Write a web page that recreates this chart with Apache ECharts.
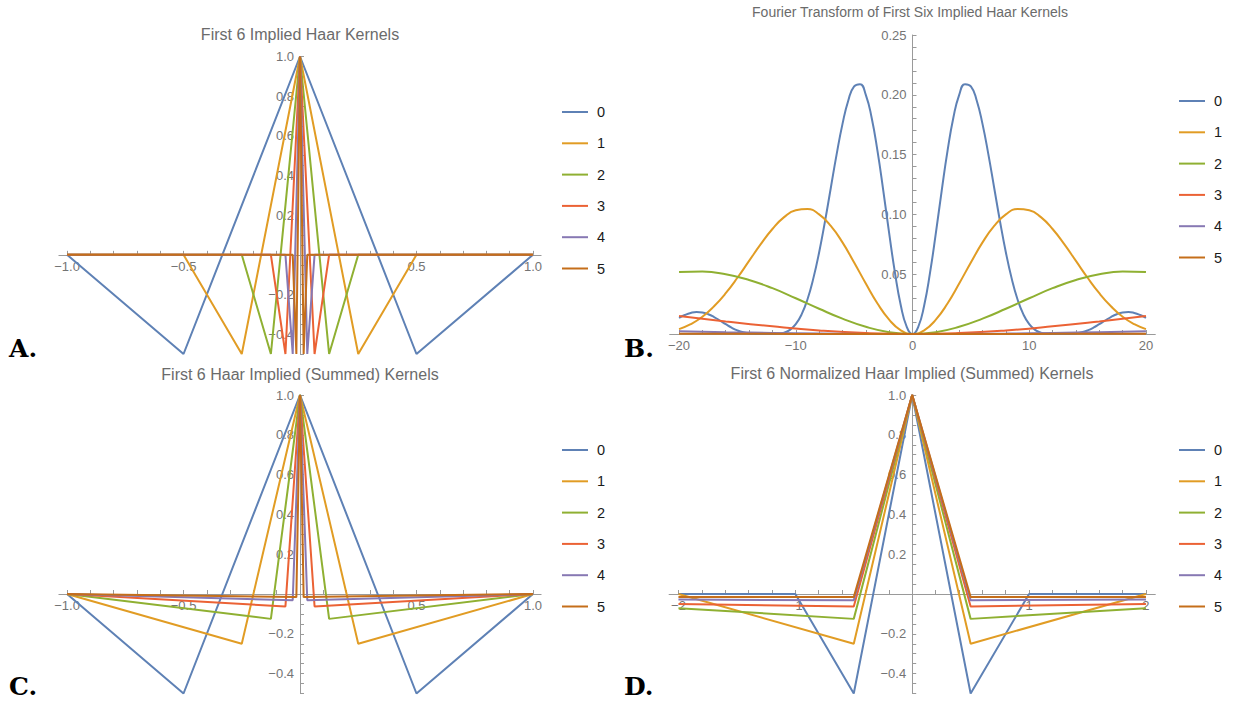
<!DOCTYPE html>
<html>
<head>
<meta charset="utf-8">
<script src="https://cdn.jsdelivr.net/npm/echarts@6/dist/echarts.min.js"></script>
<style>
html,body{margin:0;padding:0;background:#ffffff;}
#chart{width:1233px;height:705px;}
</style>
</head>
<body>
<div id="chart"></div>
<script>
// ---------------- data ----------------
const seriesNames = ['0', '1', '2', '3', '4', '5'];
const palette = ['#5E81B5', '#E19C24', '#8FB032', '#EB6235', '#8778B3', '#C56E1A'];

const titleA = 'First 6 Implied Haar Kernels';
const titleB = 'Fourier Transform of First Six Implied Haar Kernels';
const titleC = 'First 6 Haar Implied (Summed) Kernels';
const titleD = 'First 6 Normalized Haar Implied (Summed) Kernels';
const panelLetters = ['A.', 'B.', 'C.', 'D.'];

// Panel A: implied Haar kernels
const implied0X = [-1, -0.5, 0, 0.5, 1];
const implied0Y = [0, -0.5, 1, -0.5, 0];
const implied1X = [-1, -0.5, -0.25, 0, 0.25, 0.5, 1];
const implied1Y = [0, 0, -0.5, 1, -0.5, 0, 0];
const implied2X = [-1, -0.25, -0.125, 0, 0.125, 0.25, 1];
const implied2Y = [0, 0, -0.5, 1, -0.5, 0, 0];
const implied3X = [-1, -0.125, -0.0625, 0, 0.0625, 0.125, 1];
const implied3Y = [0, 0, -0.5, 1, -0.5, 0, 0];
const implied4X = [-1, -0.0625, -0.03125, 0, 0.03125, 0.0625, 1];
const implied4Y = [0, 0, -0.5, 1, -0.5, 0, 0];
const implied5X = [-1, -0.03125, -0.015625, 0, 0.015625, 0.03125, 1];
const implied5Y = [0, 0, -0.5, 1, -0.5, 0, 0];

// Panel B: Fourier transforms
const fourier0X = [-20,-19.5,-19,-18.5,-18,-17.5,-17,-16.5,-16,-15.5,-15,-14.5,-14,-13.5,-13,-12.5,-12,-11.5,-11,-10.5,-10,-9.5,-9,-8.5,-8,-7.5,-7,-6.5,-6,-5.5,-5,-4.5,-4,-3.5,-3,-2.5,-2,-1.5,-1,-0.5,0,0.5,1,1.5,2,2.5,3,3.5,4,4.5,5,5.5,6,6.5,7,7.5,8,8.5,9,9.5,10,10.5,11,11.5,12,12.5,13,13.5,14,14.5,15,15.5,16,16.5,17,17.5,18,18.5,19,19.5,20];
const fourier0Y = [0.0135,0.0159,0.0176,0.0184,0.0180,0.0165,0.0142,0.0113,0.0082,0.0053,0.0030,0.0014,0.0005,0.0001,0.0000,0.0000,0.0000,0.0002,0.0011,0.0034,0.0082,0.0164,0.0289,0.0463,0.0682,0.0940,0.1221,0.1502,0.1755,0.1953,0.2071,0.2089,0.2000,0.1808,0.1531,0.1197,0.0843,0.0511,0.0239,0.0062,0,0.0062,0.0239,0.0511,0.0843,0.1197,0.1531,0.1808,0.2000,0.2089,0.2071,0.1953,0.1755,0.1502,0.1221,0.0940,0.0682,0.0463,0.0289,0.0164,0.0082,0.0034,0.0011,0.0002,0.0000,0.0000,0.0000,0.0001,0.0005,0.0014,0.0030,0.0053,0.0082,0.0113,0.0142,0.0165,0.0180,0.0184,0.0176,0.0159,0.0135];
const fourier1X = [-20,-19,-18,-17,-16,-15,-14,-13,-12,-11,-10,-9,-8,-7,-6,-5,-4,-3,-2,-1,0,1,2,3,4,5,6,7,8,9,10,11,12,13,14,15,16,17,18,19,20];
const fourier1Y = [0.0041,0.0082,0.0144,0.0232,0.0341,0.0470,0.0611,0.0751,0.0878,0.0977,0.1035,0.1045,0.1000,0.0904,0.0766,0.0598,0.0422,0.0255,0.0120,0.0031,0,0.0031,0.0120,0.0255,0.0422,0.0598,0.0766,0.0904,0.1000,0.1045,0.1035,0.0977,0.0878,0.0751,0.0611,0.0470,0.0341,0.0232,0.0144,0.0082,0.0041];
const fourier2X = [-20,-18,-16,-14,-12,-10,-8,-6,-4,-2,0,2,4,6,8,10,12,14,16,18,20];
const fourier2Y = [0.0518,0.0522,0.0500,0.0452,0.0383,0.0299,0.0211,0.0128,0.0060,0.0015,0,0.0015,0.0060,0.0128,0.0211,0.0299,0.0383,0.0452,0.0500,0.0522,0.0518];
const fourier3X = [-20,-16,-12,-8,-4,0,4,8,12,16,20];
const fourier3Y = [0.0150,0.0105,0.0064,0.0030,0.0008,0,0.0008,0.0030,0.0064,0.0105,0.0150];
const fourier4X = [-20,-16,-12,-8,-4,0,4,8,12,16,20];
const fourier4Y = [0.0023,0.0015,0.0009,0.0004,0.0001,0,0.0001,0.0004,0.0009,0.0015,0.0023];
const fourier5X = [-20,-15,-10,-5,0,5,10,15,20];
const fourier5Y = [0.0003,0.00017,0.00008,0.00002,0,0.00002,0.00008,0.00017,0.0003];

// Panel C: summed kernels
const summed0X = [-1, -0.5, 0, 0.5, 1];
const summed0Y = [0, -0.5, 1, -0.5, 0];
const summed1X = [-1, -0.25, 0, 0.25, 1];
const summed1Y = [0, -0.25, 1, -0.25, 0];
const summed2X = [-1, -0.125, 0, 0.125, 1];
const summed2Y = [0, -0.125, 1, -0.125, 0];
const summed3X = [-1, -0.0625, 0, 0.0625, 1];
const summed3Y = [0, -0.0625, 1, -0.0625, 0];
const summed4X = [-1, -0.03125, 0, 0.03125, 1];
const summed4Y = [0, -0.03125, 1, -0.03125, 0];
const summed5X = [-1, -0.015625, 0, 0.015625, 1];
const summed5Y = [0, -0.015625, 1, -0.015625, 0];

// Panel D: normalized summed kernels
const norm0X = [-2, -1, -0.5, 0, 0.5, 1, 2];
const norm0Y = [0, 0, -0.5, 1, -0.5, 0, 0];
const norm1X = [-2, -0.5, 0, 0.5, 2];
const norm1Y = [0, -0.25, 1, -0.25, 0];
const norm2X = [-2, -0.5, 0, 0.5, 2];
const norm2Y = [-0.071, -0.125, 1, -0.125, -0.071];
const norm3X = [-2, -0.5, 0, 0.5, 2];
const norm3Y = [-0.05, -0.0625, 1, -0.0625, -0.05];
const norm4X = [-2, -0.5, 0, 0.5, 2];
const norm4Y = [-0.028, -0.03125, 1, -0.03125, -0.028];
const norm5X = [-2, -0.5, 0, 0.5, 2];
const norm5Y = [-0.015, -0.015625, 1, -0.015625, -0.015];

// tick labels
const kernelXLabels = [-1, -0.5, 0.5, 1];
const kernelYLabels = [-0.4, -0.2, 0.2, 0.4, 0.6, 0.8, 1];
const fourierXLabels = [-20, -10, 0, 10, 20];
const fourierYLabels = [0.05, 0.10, 0.15, 0.20, 0.25];
const normXLabels = [-2, -1, 1, 2];

// ---------------- helpers ----------------
function zip(xs, ys) { return xs.map((x, i) => [x, ys[i]]); }
function tickRange(a, b, step) {
  const out = [];
  const n = Math.round((b - a) / step);
  for (let i = 0; i <= n; i++) out.push(+(a + i * step).toFixed(6));
  return out;
}
const minus = s => s.replace(/-/g, '\u2212');
const fmt1 = v => minus(Number(v).toFixed(1));
const fmt2 = v => minus(Number(v).toFixed(2));
const fmt0 = v => minus(String(Math.round(Number(v))));

const FONT = '"Liberation Sans", Arial, sans-serif';
const AXIS_COLOR = '#9a9a9a';
const LABEL_COLOR = '#747474';

// grid boxes and axis ranges
const grids = [
  { left: 58.9, top: 56.5, width: 482.2, height: 297.5, x: [-1.035, 1.035], y: [-0.5, 1] },
  { left: 669.7, top: 35, width: 485.6, height: 299, x: [-20.8, 20.8], y: [0, 0.25] },
  { left: 58.9, top: 395, width: 482.2, height: 298.5, x: [-1.035, 1.035], y: [-0.5, 1] },
  { left: 669.1, top: 395, width: 486.2, height: 298.5, x: [-2.08, 2.08], y: [-0.5, 1] }
];

// axes cross at the origin: shift each axis from the grid edge to the other axis's zero
function zeroOffset(range, size) { return -size * (0 - range[0]) / (range[1] - range[0]); }

function makeX(gi, labels, ticks, fmt) {
  const g = grids[gi];
  return {
    type: 'value', gridIndex: gi, min: g.x[0], max: g.x[1],
    position: 'bottom', offset: zeroOffset(g.y, g.height),
    splitLine: { show: false },
    axisLine: { show: true, onZero: false, lineStyle: { color: AXIS_COLOR, width: 1 } },
    axisTick: { show: true, inside: true, length: 4, customValues: ticks, lineStyle: { color: AXIS_COLOR, width: 1 } },
    minorTick: { show: false },
    axisLabel: { customValues: labels, formatter: fmt, color: LABEL_COLOR, fontSize: 13, fontFamily: FONT, margin: 5 }
  };
}
function makeY(gi, labels, ticks, fmt) {
  const g = grids[gi];
  return {
    type: 'value', gridIndex: gi, min: g.y[0], max: g.y[1],
    position: 'left', offset: zeroOffset(g.x, g.width),
    splitLine: { show: false },
    axisLine: { show: true, onZero: false, lineStyle: { color: AXIS_COLOR, width: 1 } },
    axisTick: { show: true, inside: true, length: 4, customValues: ticks, lineStyle: { color: AXIS_COLOR, width: 1 } },
    minorTick: { show: false },
    axisLabel: { customValues: labels, formatter: fmt, color: LABEL_COLOR, fontSize: 13, fontFamily: FONT, margin: 6 }
  };
}
function makeSeries(gi, k, xs, ys, smooth) {
  return {
    type: 'line', name: seriesNames[k], xAxisIndex: gi, yAxisIndex: gi,
    data: zip(xs, ys), showSymbol: false, symbol: 'none', smooth: smooth || false,
    clip: false, color: palette[k],
    lineStyle: { color: palette[k], width: 2 },
    emphasis: { disabled: true }
  };
}
function makeLegend(left, top) {
  return {
    orient: 'vertical', left: left, top: top, padding: 0, data: seriesNames,
    icon: 'rect', itemWidth: 26, itemHeight: 2, itemGap: 15.3,
    textStyle: { color: '#1a1a1a', fontSize: 14.5, fontFamily: FONT, lineHeight: 16, padding: [0, 0, 0, 4] },
    selectedMode: false
  };
}

const implied = [[implied0X, implied0Y], [implied1X, implied1Y], [implied2X, implied2Y], [implied3X, implied3Y], [implied4X, implied4Y], [implied5X, implied5Y]];
const fourier = [[fourier0X, fourier0Y], [fourier1X, fourier1Y], [fourier2X, fourier2Y], [fourier3X, fourier3Y], [fourier4X, fourier4Y], [fourier5X, fourier5Y]];
const summed = [[summed0X, summed0Y], [summed1X, summed1Y], [summed2X, summed2Y], [summed3X, summed3Y], [summed4X, summed4Y], [summed5X, summed5Y]];
const normed = [[norm0X, norm0Y], [norm1X, norm1Y], [norm2X, norm2Y], [norm3X, norm3Y], [norm4X, norm4Y], [norm5X, norm5Y]];

const series = [];
implied.forEach((p, k) => series.push(makeSeries(0, k, p[0], p[1])));
fourier.forEach((p, k) => series.push(makeSeries(1, k, p[0], p[1], true)));
summed.forEach((p, k) => series.push(makeSeries(2, k, p[0], p[1])));
normed.forEach((p, k) => series.push(makeSeries(3, k, p[0], p[1])));

const kernelXTicks = tickRange(-1, 1, 0.1);
const kernelYTicks = tickRange(-0.5, 1, 0.05);
const fourierXTicks = tickRange(-20, 20, 2);
const fourierYTicks = tickRange(0, 0.25, 0.01);
const normXTicks = tickRange(-2, 2, 0.2);

function textEl(x, y, text, font, fill, align) {
  return { type: 'text', x: x, y: y, silent: true,
    style: { text: text, font: font, fill: fill, align: align || 'center', verticalAlign: 'middle' } };
}
const TITLE_FONT = '16px "Liberation Sans", Arial, sans-serif';
const LETTER_FONT = 'bold 25px "DejaVu Serif", "Liberation Serif", serif';

const option = {
  animation: false,
  backgroundColor: '#ffffff',
  grid: grids.map(g => ({ left: g.left, top: g.top, width: g.width, height: g.height })),
  xAxis: [
    makeX(0, kernelXLabels, kernelXTicks, fmt1),
    makeX(1, fourierXLabels, fourierXTicks, fmt0),
    makeX(2, kernelXLabels, kernelXTicks, fmt1),
    makeX(3, normXLabels, normXTicks, fmt0)
  ],
  yAxis: [
    makeY(0, kernelYLabels, kernelYTicks, fmt1),
    makeY(1, fourierYLabels, fourierYTicks, fmt2),
    makeY(2, kernelYLabels, kernelYTicks, fmt1),
    makeY(3, kernelYLabels, kernelYTicks, fmt1)
  ],
  legend: [
    makeLegend(562, 104),
    makeLegend(1179, 93),
    makeLegend(562, 442),
    makeLegend(1179, 442)
  ],
  graphic: [
    textEl(300, 34, titleA, TITLE_FONT, '#6b6b6b'),
    textEl(910, 12, titleB, '14px "Liberation Sans", Arial, sans-serif', '#6b6b6b'),
    textEl(300, 374, titleC, TITLE_FONT, '#6b6b6b'),
    textEl(912, 373, titleD, TITLE_FONT, '#6b6b6b'),
    textEl(9, 348, panelLetters[0], LETTER_FONT, '#000000', 'left'),
    textEl(624, 348, panelLetters[1], LETTER_FONT, '#000000', 'left'),
    textEl(9, 686, panelLetters[2], LETTER_FONT, '#000000', 'left'),
    textEl(624, 686, panelLetters[3], LETTER_FONT, '#000000', 'left')
  ],
  series: series
};

const chart = echarts.init(document.getElementById('chart'), null, { renderer: 'svg', width: 1233, height: 705 });
chart.setOption(option);
</script>
</body>
</html>
